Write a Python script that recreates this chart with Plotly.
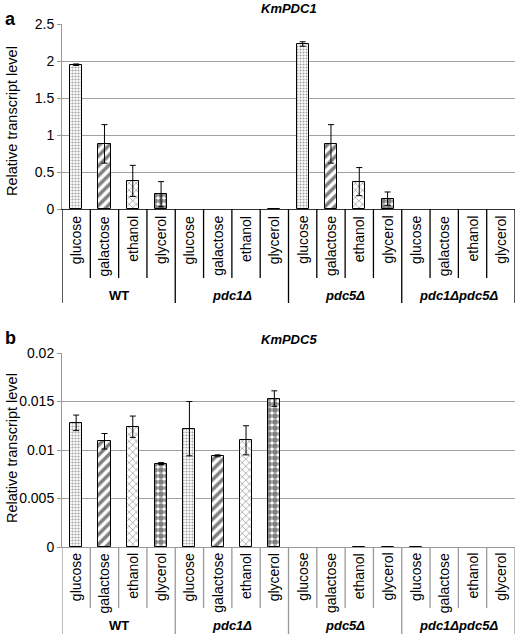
import plotly.graph_objects as go

W, H = 520, 634

carbon = ["glucose", "galactose", "ethanol", "glycerol"]
strains = ["WT", "pdc1Δ", "pdc5Δ", "pdc1Δpdc5Δ"]
strain_labels = ["<b>WT</b>", "<b><i>pdc1Δ</i></b>", "<b><i>pdc5Δ</i></b>", "<b><i>pdc1Δpdc5Δ</i></b>"]

# KmPDC1 (panel a): values per carbon source, ordered by strain (None = no bar)
pdc1_vals = {
    "glucose":   [1.95, None, 2.23, None],
    "galactose": [0.88, None, 0.88, None],
    "ethanol":   [0.38, None, 0.37, None],
    "glycerol":  [0.20, 0.006, 0.14, None],
}
pdc1_err = {
    "glucose":   [0.01, 0.0, 0.03, 0.0],
    "galactose": [0.26, 0.0, 0.26, 0.0],
    "ethanol":   [0.21, 0.0, 0.19, 0.0],
    "glycerol":  [0.17, 0.0, 0.09, 0.0],
}
# KmPDC5 (panel b)
pdc5_vals = {
    "glucose":   [0.0128, 0.0122, None, 0.00003],
    "galactose": [0.0109, 0.0094, None, None],
    "ethanol":   [0.0124, 0.0110, 0.00003, None],
    "glycerol":  [0.0086, 0.0153, 0.00003, None],
}
pdc5_err = {
    "glucose":   [0.0008, 0.0028, 0.0, 0.0],
    "galactose": [0.0008, 0.0001, 0.0, 0.0],
    "ethanol":   [0.0011, 0.0015, 0.0, 0.0],
    "glycerol":  [0.0001, 0.0008, 0.0, 0.0],
}

patterns = {
    "glucose":   dict(shape=".", fgcolor="#444444", bgcolor="white", size=3, solidity=0.4),
    "galactose": dict(shape="/", fgcolor="black", bgcolor="white", size=7, solidity=0.5),
    "ethanol":   dict(shape="x", fgcolor="#555555", bgcolor="white", size=5, solidity=0.3),
    "glycerol":  dict(shape=".", fgcolor="black", bgcolor="white", size=6, solidity=0.7),
}

def py(p):
    return 1 - p / H

def px(p):
    return p / W

fig = go.Figure()

panels = [
    dict(vals=pdc1_vals, err=pdc1_err, xa="x", ya="y", top=24, bot=209,
         title="<b><i>KmPDC1</i></b>", letter="a", titley=8, ytc=121,
         labtop=214, innerend=278, outerend=303, grouplab=295, divcol="black"),
    dict(vals=pdc5_vals, err=pdc5_err, xa="x2", ya="y2", top=353, bot=547,
         title="<b><i>KmPDC5</i></b>", letter="b", titley=339, ytc=448,
         labtop=551, innerend=608, outerend=634, grouplab=625, divcol="#999999"),
]

ncar = len(carbon)
for p in panels:
    for ci, c in enumerate(carbon):
        xs = [si * ncar + ci for si in range(len(strains))]
        fig.add_trace(go.Bar(
            x=xs, y=p["vals"][c], width=0.43, xaxis=p["xa"], yaxis=p["ya"],
            marker=dict(color="white", line=dict(color="black", width=1),
                        pattern=patterns[c]),
            error_y=dict(type="data", array=p["err"][c], color="black",
                         thickness=1, width=3, visible=True),
            showlegend=False, hoverinfo="skip",
        ))

x0p, x1p = px(62), px(515)
axcommon = dict(range=[-0.5, 15.5], showticklabels=False, showgrid=False,
                zeroline=False, ticks="", fixedrange=True)
ycommon = dict(showgrid=True, gridcolor="#a0a0a0", gridwidth=1, zeroline=False,
               showline=True, linecolor="#999999", ticks="outside", ticklen=4,
               tickcolor="#999999", tickfont=dict(size=14), fixedrange=True)
fig.update_layout(
    width=W, height=H, margin=dict(l=0, r=0, t=0, b=0, autoexpand=False),
    paper_bgcolor="white", plot_bgcolor="white", bargap=0,
    font=dict(family="Liberation Sans, Arial, sans-serif", color="black", size=12),
    xaxis=dict(domain=[x0p, x1p], anchor="y", showline=True, linecolor="#333333", linewidth=1, **axcommon),
    xaxis2=dict(domain=[x0p, x1p], anchor="y2", showline=True, linecolor="#999999", linewidth=1, **axcommon),
    yaxis=dict(domain=[py(209), py(24)], anchor="x", range=[0, 2.5], dtick=0.5, **ycommon),
    yaxis2=dict(domain=[py(547), py(353)], anchor="x2", range=[0, 0.02], dtick=0.005, **ycommon),
)

ann = []
shp = []
n = len(strains) * ncar
for p in panels:
    xref = p["xa"]
    for si in range(len(strains)):
        for ci, c in enumerate(carbon):
            ann.append(dict(x=si * ncar + ci, xref=xref, y=py(p["labtop"]), yref="paper",
                            text=c, textangle=-90, showarrow=False, xanchor="center",
                            yanchor="top", font=dict(size=14)))
        ann.append(dict(x=si * ncar + (ncar - 1) / 2, xref=xref, y=py(p["grouplab"]), yref="paper",
                        text=strain_labels[si], showarrow=False, xanchor="center",
                        yanchor="middle", font=dict(size=13)))
    for k in range(n + 1):
        end = p["outerend"] if k % ncar == 0 else p["innerend"]
        shp.append(dict(type="line", xref=xref, yref="paper", x0=k - 0.5, x1=k - 0.5,
                        y0=py(p["bot"]), y1=py(end), line=dict(color=p["divcol"], width=1.3)))
    ann.append(dict(x=(x0p + x1p) / 2, xref="paper", y=py(p["titley"]), yref="paper",
                    text=p["title"], showarrow=False, font=dict(size=13), yanchor="middle"))
    ann.append(dict(x=px(3), xref="paper", y=py(p["titley"] - 1), yref="paper", xanchor="left",
                    text="<b>" + p["letter"] + "</b>", showarrow=False, font=dict(size=18),
                    yanchor="top" if p["letter"] == "a" else "middle"))
    ann.append(dict(x=px(12), xref="paper", y=py(p["ytc"]), yref="paper",
                    text="Relative transcript level", textangle=-90, showarrow=False,
                    font=dict(size=14.5), xanchor="center", yanchor="middle"))

fig.update_layout(annotations=ann, shapes=shp)
# remove the default 8px page margin so the 520x634 figure fills the window exactly
fig.write_html("out.html", config={"displayModeBar": False},
               post_script="document.body.style.margin='0';document.body.style.overflow='hidden';")
